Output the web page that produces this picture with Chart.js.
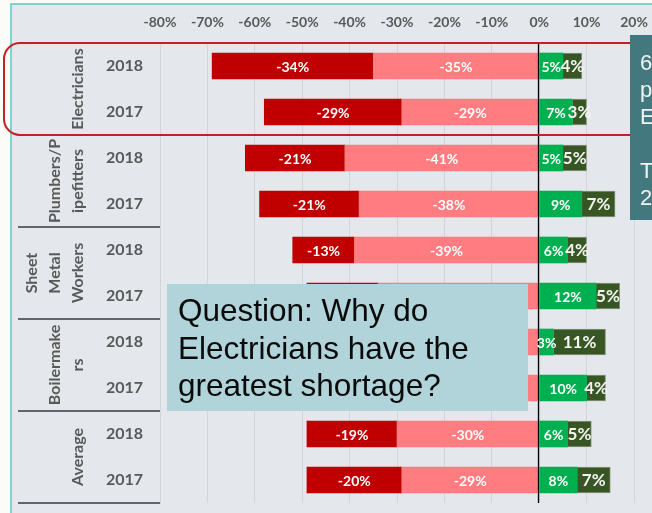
<!DOCTYPE html>
<html>
<head>
<meta charset="utf-8">
<script src="https://cdn.jsdelivr.net/npm/chart.js@4.4.1/dist/chart.umd.min.js"></script>
<style>
html, body { margin: 0; padding: 0; background: #fbfbf7; }
canvas { display: block; }
</style>
</head>
<body>
<canvas id="ChartShortage" width="652" height="513"></canvas>
<script>
// trades (two rows each: 2018, 2017)
var groupLines = [['Electricians'], ['Plumbers/P', 'ipefitters'], ['Sheet', 'Metal', 'Workers'], ['Boilermake', 'rs'], ['Average']];
var rowLabels = ['2018', '2017', '2018', '2017', '2018', '2017', '2018', '2017', '2018', '2017'];

// values in %
var lightRed  = [-35, -29, -41, -38, -39, -34, -37, -36, -30, -29];
var darkRed   = [-34, -29, -21, -21, -13, -15, -20, -18, -19, -20];
var green     = [5, 7, 5, 9, 6, 12, 3, 10, 6, 8];
var darkGreen = [4, 3, 5, 7, 4, 5, 11, 4, 5, 7];

var xTicks = [-80, -70, -60, -50, -40, -30, -20, -10, 0, 10, 20];

var question = ['Question: Why do', 'Electricians have the', 'greatest shortage?'];
var sideNote = ['6', 'p', 'E', '', 'T', '2'];

var labelFont = 'Lato, "DejaVu Sans", sans-serif';
var boxFont = '"Liberation Sans", Arial, sans-serif';

// background + border of the slide area
var backPlugin = {
    id: 'back',
    beforeDraw: function (chart) {
        var ctx = chart.ctx;
        ctx.save();
        ctx.fillStyle = '#fbfbf7';
        ctx.fillRect(0, 0, chart.width, chart.height);
        ctx.fillStyle = '#e4e7eb';
        ctx.fillRect(11, 4, chart.width - 11, chart.height - 4);
        ctx.strokeStyle = '#5fc8c4';
        ctx.lineWidth = 1.5;
        ctx.beginPath();
        ctx.moveTo(11, chart.height);
        ctx.lineTo(11, 4);
        ctx.lineTo(chart.width, 4);
        ctx.stroke();
        ctx.restore();
    }
};

// labels, separators and the overlays
var overPlugin = {
    id: 'over',
    afterDatasetsDraw: function (chart) {
        var ctx = chart.ctx;
        var area = chart.chartArea;
        var yScale = chart.scales.y;
        var xScale = chart.scales.x;
        ctx.save();

        // zero line
        var x0 = Math.round(xScale.getPixelForValue(0)) - 0.5;
        ctx.strokeStyle = '#000';
        ctx.lineWidth = 1.3;
        ctx.beginPath();
        ctx.moveTo(x0, area.top);
        ctx.lineTo(x0, area.bottom);
        ctx.stroke();

        // value labels
        ctx.textAlign = 'center';
        ctx.textBaseline = 'middle';
        chart.data.datasets.forEach(function (ds, i) {
            var meta = chart.getDatasetMeta(i);
            ctx.font = 'bold ' + ds.labelSize + 'px ' + labelFont;
            ctx.fillStyle = ds.labelColor;
            meta.data.forEach(function (bar, j) {
                ctx.fillText(ds.data[j] + '%', (bar.x + bar.base) / 2, bar.y + 1);
            });
        });

        // group separators and group names
        ctx.fillStyle = '#595959';
        ctx.font = 'bold 16px ' + labelFont;
        groupLines.forEach(function (lines, g) {
            var y1 = yScale.getPixelForTick(g * 2);
            var y2 = yScale.getPixelForTick(g * 2 + 1);
            var yc = (y1 + y2) / 2;
            var yb = (g < groupLines.length - 1) ? (y2 + yScale.getPixelForTick(g * 2 + 2)) / 2 : area.bottom;
            ctx.strokeStyle = '#3a3a3a';
            ctx.lineWidth = 1.5;
            ctx.beginPath();
            ctx.moveTo(18, yb);
            ctx.lineTo(area.left, yb);
            ctx.stroke();
            lines.forEach(function (t, k) {
                var x = 78 - (lines.length - 1 - k) * 23;
                ctx.save();
                ctx.translate(x, yc);
                ctx.rotate(-Math.PI / 2);
                ctx.fillText(t, 0, 0);
                ctx.restore();
            });
        });

        // red rounded box round Electricians
        var rTop = area.top;
        var rBot = (yScale.getPixelForTick(1) + yScale.getPixelForTick(2)) / 2;
        ctx.strokeStyle = '#c42127';
        ctx.lineWidth = 2;
        ctx.beginPath();
        ctx.roundRect(4, rTop, 720, rBot - rTop, 16);
        ctx.stroke();

        // question box
        ctx.fillStyle = '#b0d4da';
        ctx.fillRect(167, 284, 361, 127);
        ctx.fillStyle = '#0a0a0a';
        ctx.font = '31.5px ' + boxFont;
        ctx.textAlign = 'left';
        ctx.textBaseline = 'alphabetic';
        question.forEach(function (t, k) {
            ctx.fillText(t, 178, 321 + k * 37.5);
        });

        // side note box (cut by the edge)
        ctx.fillStyle = '#44787f';
        ctx.fillRect(630, 35, 40, 185);
        ctx.fillStyle = '#eef4f4';
        ctx.font = '22px ' + boxFont;
        sideNote.forEach(function (t, k) {
            ctx.fillText(t, 640, 70 + k * 27);
        });

        ctx.restore();
    }
};

var ShortageCanvas = document.getElementById('ChartShortage');

var ShortageData = {
    labels: rowLabels,
    datasets: [
        { label: 'Shortage', data: lightRed, backgroundColor: '#ff7c80', labelColor: '#fff', labelSize: 14 },
        { label: 'Severe shortage', data: darkRed, backgroundColor: '#c00000', labelColor: '#fff', labelSize: 14 },
        { label: 'Surplus', data: green, backgroundColor: '#00b050', labelColor: '#fff', labelSize: 14 },
        { label: 'Large surplus', data: darkGreen, backgroundColor: '#375623', borderColor: '#8a9682', borderWidth: 1, labelColor: '#f4f4f4', labelSize: 17 }
    ]
};

var barChart = new Chart(ShortageCanvas, {
    type: 'bar',
    data: ShortageData,
    plugins: [backPlugin, overPlugin],
    options: {
        indexAxis: 'y',
        responsive: false,
        animation: false,
        devicePixelRatio: 1,
        barThickness: 26,
        layout: { padding: { top: 0, right: 18, bottom: 10, left: 0 } },
        plugins: { legend: { display: false }, tooltip: { enabled: false } },
        scales: {
            x: {
                position: 'top',
                stacked: true,
                min: xTicks[0],
                max: xTicks[xTicks.length - 1],
                afterFit: function (s) { s.height = 43; s.paddingLeft = 0; s.paddingRight = 0; },
                afterBuildTicks: function (s) { s.ticks = xTicks.map(function (v) { return { value: v }; }); },
                ticks: {
                    padding: 12,
                    color: '#595959',
                    font: { family: labelFont, size: 14, weight: 'bold' },
                    callback: function (v) { return v + '%'; }
                },
                grid: { color: '#d1d4d8', drawTicks: false },
                border: { display: false }
            },
            y: {
                stacked: true,
                afterFit: function (s) { s.width = 160; s.paddingTop = 0; s.paddingBottom = 0; },
                ticks: {
                    padding: 17,
                    color: '#595959',
                    font: { family: labelFont, size: 16, weight: 'bold' }
                },
                grid: { display: false, drawTicks: false },
                border: { display: true, color: '#d1d4d8' }
            }
        }
    }
});
</script>
</body>
</html>
